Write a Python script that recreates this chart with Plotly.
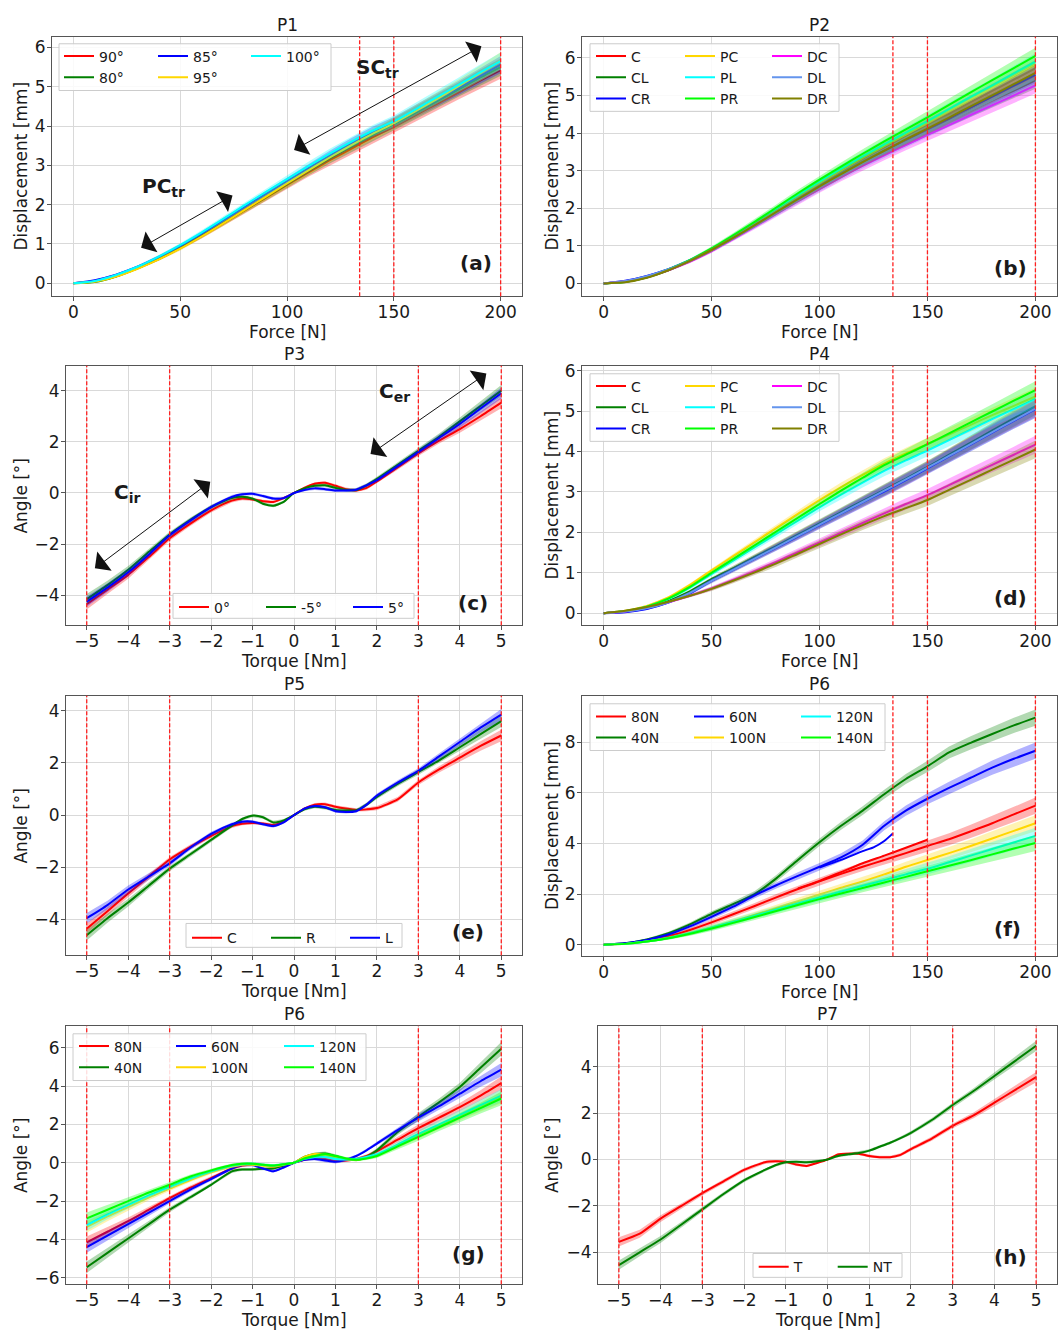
import plotly.graph_objects as go

W, H = 1064, 1335
FONT = "DejaVu Sans"
INK = "#1a1a1a"

# ---------------- data ----------------
force = [0, 10, 20, 30, 40, 50, 60, 70, 80, 90, 100, 110, 120, 130, 140, 150, 160, 170, 180, 190, 200]
torque = [-5, -4.5, -4, -3.5, -3, -2.5, -2, -1.5, -1.25, -1, -0.75, -0.5, -0.25, 0,
          0.25, 0.5, 0.75, 1, 1.25, 1.5, 1.75, 2, 2.5, 3, 3.5, 4, 4.5, 5]
force_limits = [134, 150, 200]
torque_limits = [-5, -3, 3, 5]

sd_force = [0, 0.01, 0.02, 0.03, 0.04, 0.05, 0.06, 0.07, 0.08, 0.09, 0.1, 0.11, 0.12, 0.13, 0.14, 0.15, 0.16, 0.17, 0.18, 0.2, 0.22]
sd_force_p6 = [0, 0.02, 0.04, 0.06, 0.08, 0.1, 0.11, 0.12, 0.13, 0.14, 0.15, 0.16, 0.17, 0.18, 0.2, 0.22, 0.24, 0.26, 0.28, 0.3, 0.32]
sd_torque = [0.2, 0.17, 0.15, 0.12, 0.1, 0.09, 0.08, 0.07, 0.06, 0.06, 0.06, 0.06, 0.05, 0.03,
             0.05, 0.06, 0.06, 0.06, 0.06, 0.06, 0.07, 0.08, 0.09, 0.1, 0.12, 0.15, 0.18, 0.22]
sd_torque_p6 = [0.3, 0.25, 0.2, 0.16, 0.13, 0.11, 0.09, 0.08, 0.07, 0.07, 0.07, 0.07, 0.06, 0.04,
                0.06, 0.08, 0.1, 0.09, 0.08, 0.07, 0.08, 0.1, 0.15, 0.2, 0.2, 0.22, 0.28, 0.35]

# P1 (a) displacement [mm] vs force
p1_names = ["90°", "80°", "85°", "95°", "100°"]
p1_90 = [0, 0.05, 0.18, 0.38, 0.62, 0.9, 1.2, 1.52, 1.85, 2.17, 2.5, 2.82, 3.13, 3.42, 3.71, 3.98, 4.27, 4.56, 4.85, 5.14, 5.42]
p1_80 = [0, 0.03, 0.17, 0.38, 0.62, 0.9, 1.21, 1.53, 1.86, 2.19, 2.52, 2.85, 3.17, 3.47, 3.76, 4.04, 4.33, 4.62, 4.92, 5.22, 5.5]
p1_85 = [0, 0.08, 0.22, 0.42, 0.67, 0.95, 1.26, 1.59, 1.93, 2.27, 2.6, 2.93, 3.25, 3.56, 3.84, 4.08, 4.37, 4.66, 4.96, 5.26, 5.56]
p1_95 = [0, 0.04, 0.17, 0.37, 0.61, 0.88, 1.19, 1.52, 1.86, 2.2, 2.54, 2.87, 3.2, 3.51, 3.8, 4.07, 4.37, 4.68, 5.0, 5.33, 5.66]
p1_100 = [0, 0.06, 0.21, 0.42, 0.68, 0.97, 1.29, 1.63, 1.98, 2.32, 2.65, 2.98, 3.3, 3.6, 3.88, 4.12, 4.42, 4.73, 5.04, 5.35, 5.65]

# P2 (b)
p2_C = [0, 0.05, 0.17, 0.36, 0.6, 0.9, 1.23, 1.57, 1.93, 2.29, 2.64, 2.98, 3.31, 3.62, 3.93, 4.23, 4.52, 4.82, 5.12, 5.42, 5.72]
p2_CL = [0, 0.04, 0.16, 0.35, 0.6, 0.89, 1.22, 1.56, 1.91, 2.26, 2.6, 2.93, 3.24, 3.53, 3.8, 4.07, 4.34, 4.6, 4.87, 5.13, 5.4]
p2_CR = [0, 0.07, 0.2, 0.38, 0.62, 0.9, 1.22, 1.55, 1.9, 2.24, 2.58, 2.91, 3.23, 3.53, 3.82, 4.1, 4.39, 4.68, 4.97, 5.26, 5.55]
p2_PC = [0, 0.05, 0.17, 0.36, 0.61, 0.91, 1.25, 1.6, 1.96, 2.32, 2.67, 3.01, 3.34, 3.65, 3.96, 4.26, 4.57, 4.88, 5.2, 5.51, 5.82]
p2_PL = [0, 0.05, 0.17, 0.37, 0.62, 0.92, 1.26, 1.61, 1.98, 2.35, 2.71, 3.05, 3.38, 3.7, 4.01, 4.32, 4.64, 4.96, 5.27, 5.59, 5.9]
p2_PR = [0, 0.04, 0.17, 0.37, 0.62, 0.93, 1.28, 1.64, 2.02, 2.4, 2.76, 3.11, 3.45, 3.78, 4.1, 4.42, 4.75, 5.08, 5.41, 5.73, 6.05]
p2_DC = [0, 0.05, 0.17, 0.35, 0.58, 0.86, 1.18, 1.51, 1.85, 2.19, 2.51, 2.83, 3.13, 3.41, 3.68, 3.95, 4.21, 4.48, 4.74, 5.0, 5.27]
p2_DL = [0, 0.06, 0.19, 0.37, 0.6, 0.88, 1.2, 1.53, 1.87, 2.21, 2.55, 2.87, 3.18, 3.47, 3.76, 4.04, 4.32, 4.6, 4.88, 5.16, 5.45]
p2_DR = [0, 0.03, 0.15, 0.35, 0.6, 0.89, 1.21, 1.55, 1.9, 2.24, 2.58, 2.91, 3.23, 3.53, 3.83, 4.12, 4.41, 4.71, 5.0, 5.3, 5.6]

# P3 (c) angle [deg] vs torque
p3_0 = [-4.35, -3.78, -3.2, -2.5, -1.77, -1.2, -0.68, -0.3, -0.22, -0.25, -0.32, -0.35, -0.2, 0,
        0.2, 0.36, 0.4, 0.28, 0.15, 0.1, 0.2, 0.45, 1.0, 1.55, 2.05, 2.5, 3.0, 3.53]
p3_m5 = [-4.15, -3.6, -3.0, -2.3, -1.62, -1.05, -0.55, -0.2, -0.15, -0.22, -0.42, -0.5, -0.35, 0,
         0.18, 0.28, 0.3, 0.2, 0.12, 0.12, 0.3, 0.55, 1.1, 1.65, 2.2, 2.8, 3.4, 4.0]
p3_5 = [-4.25, -3.7, -3.1, -2.4, -1.65, -1.08, -0.55, -0.15, -0.05, -0.03, -0.12, -0.22, -0.2, 0,
        0.12, 0.18, 0.15, 0.1, 0.1, 0.13, 0.3, 0.5, 1.05, 1.6, 2.15, 2.7, 3.3, 3.9]

# P4 (d)
p4_C = [0, 0.04, 0.13, 0.29, 0.52, 0.82, 1.09, 1.37, 1.64, 1.92, 2.2, 2.48, 2.76, 3.03, 3.31, 3.6, 3.9, 4.2, 4.5, 4.79, 5.08]
p4_CL = [0, 0.05, 0.14, 0.3, 0.54, 0.84, 1.11, 1.39, 1.66, 1.94, 2.22, 2.5, 2.78, 3.05, 3.33, 3.62, 3.92, 4.22, 4.52, 4.82, 5.12]
p4_CR = [0, 0.02, 0.1, 0.26, 0.49, 0.8, 1.07, 1.35, 1.62, 1.9, 2.18, 2.46, 2.74, 3.01, 3.29, 3.58, 3.88, 4.17, 4.47, 4.76, 5.05]
p4_PC = [0, 0.06, 0.18, 0.39, 0.7, 1.06, 1.41, 1.76, 2.11, 2.46, 2.8, 3.12, 3.42, 3.7, 3.95, 4.18, 4.42, 4.66, 4.9, 5.13, 5.36]
p4_PL = [0, 0.05, 0.16, 0.35, 0.63, 0.97, 1.3, 1.63, 1.96, 2.29, 2.62, 2.93, 3.23, 3.52, 3.78, 4.02, 4.28, 4.54, 4.8, 5.05, 5.3]
p4_PR = [0, 0.05, 0.16, 0.36, 0.65, 1.0, 1.34, 1.68, 2.02, 2.36, 2.7, 3.03, 3.35, 3.66, 3.92, 4.18, 4.45, 4.72, 4.99, 5.26, 5.52]
p4_DC = [0, 0.04, 0.13, 0.27, 0.43, 0.61, 0.82, 1.04, 1.27, 1.51, 1.75, 1.99, 2.23, 2.47, 2.7, 2.92, 3.17, 3.42, 3.67, 3.92, 4.17]
p4_DL = [0, 0.04, 0.12, 0.27, 0.5, 0.8, 1.07, 1.35, 1.63, 1.91, 2.19, 2.47, 2.75, 3.03, 3.31, 3.6, 3.89, 4.18, 4.48, 4.77, 5.06]
p4_DR = [0, 0.06, 0.15, 0.28, 0.43, 0.6, 0.8, 1.01, 1.23, 1.47, 1.71, 1.95, 2.18, 2.4, 2.6, 2.8, 3.05, 3.3, 3.55, 3.8, 4.05]

# P5 (e)
p5_C = [-4.35, -3.68, -3.0, -2.35, -1.7, -1.22, -0.8, -0.42, -0.33, -0.3, -0.32, -0.38, -0.25, 0,
        0.25, 0.4, 0.42, 0.32, 0.25, 0.2, 0.22, 0.27, 0.6, 1.25, 1.75, 2.2, 2.65, 3.05]
p5_R = [-4.6, -3.95, -3.35, -2.7, -2.05, -1.5, -0.95, -0.4, -0.15, -0.02, -0.08, -0.28, -0.2, 0,
        0.22, 0.32, 0.28, 0.2, 0.18, 0.18, 0.4, 0.7, 1.2, 1.65, 2.1, 2.6, 3.1, 3.6]
p5_L = [-3.95, -3.45, -2.85, -2.35, -1.85, -1.25, -0.72, -0.35, -0.25, -0.25, -0.35, -0.42, -0.28, 0,
        0.25, 0.35, 0.3, 0.15, 0.12, 0.15, 0.4, 0.75, 1.25, 1.7, 2.25, 2.8, 3.35, 3.85]

# P6 (f) displacement vs force at different preloads
p6f_80 = [0, 0.04, 0.15, 0.33, 0.58, 0.88, 1.2, 1.53, 1.87, 2.2, 2.5, 2.8, 3.08, 3.35, 3.62, 3.9, 4.17, 4.48, 4.8, 5.15, 5.5]
p6f_40 = [0, 0.05, 0.2, 0.45, 0.8, 1.22, 1.6, 2.0, 2.62, 3.35, 4.05, 4.7, 5.3, 5.95, 6.55, 7.05, 7.6, 7.98, 8.33, 8.67, 8.98]
p6f_60 = [0, 0.05, 0.18, 0.4, 0.72, 1.1, 1.5, 1.95, 2.35, 2.72, 3.08, 3.45, 3.95, 4.7, 5.3, 5.77, 6.2, 6.6, 7.0, 7.35, 7.67]
p6f_100 = [0, 0.03, 0.12, 0.26, 0.45, 0.68, 0.92, 1.18, 1.45, 1.72, 1.98, 2.25, 2.5, 2.78, 3.08, 3.35, 3.62, 3.9, 4.2, 4.5, 4.8]
p6f_120 = [0, 0.03, 0.12, 0.26, 0.45, 0.67, 0.9, 1.14, 1.39, 1.63, 1.87, 2.1, 2.33, 2.55, 2.78, 3.0, 3.26, 3.52, 3.78, 4.04, 4.3]
p6f_140 = [0, 0.03, 0.12, 0.25, 0.43, 0.64, 0.86, 1.09, 1.33, 1.57, 1.8, 2.02, 2.24, 2.46, 2.68, 2.9, 3.12, 3.34, 3.57, 3.8, 4.02]
p6f_80_branch_force = [90, 100, 110, 120, 130, 140, 150]
p6f_80_branch = [2.22, 2.52, 2.87, 3.22, 3.52, 3.83, 4.15]
p6f_60_branch_force = [100, 110, 120, 125, 130, 134]
p6f_60_branch = [3.05, 3.35, 3.7, 3.85, 4.1, 4.4]

# P6 (g) angle vs torque at different preloads
p6g_80 = [-4.15, -3.6, -3.05, -2.45, -1.85, -1.3, -0.8, -0.3, -0.15, -0.1, -0.12, -0.22, -0.15, 0,
          0.15, 0.25, 0.2, 0.1, 0.12, 0.2, 0.35, 0.6, 1.2, 1.8, 2.35, 2.9, 3.5, 4.15]
p6g_40 = [-5.45, -4.7, -3.95, -3.2, -2.45, -1.8, -1.15, -0.45, -0.35, -0.35, -0.32, -0.3, -0.15, 0,
          0.3, 0.45, 0.48, 0.35, 0.2, 0.15, 0.3, 0.65, 1.6, 2.4, 3.15, 3.95, 4.95, 5.95]
p6g_60 = [-4.4, -3.8, -3.2, -2.6, -2.0, -1.4, -0.85, -0.3, -0.12, -0.12, -0.3, -0.45, -0.25, 0,
          0.15, 0.2, 0.12, 0.05, 0.15, 0.35, 0.65, 1.0, 1.7, 2.35, 2.95, 3.6, 4.25, 4.85]
p6g_100 = [-3.35, -2.8, -2.3, -1.8, -1.35, -0.9, -0.5, -0.2, -0.1, -0.1, -0.15, -0.2, -0.1, 0,
           0.3, 0.45, 0.4, 0.25, 0.18, 0.15, 0.25, 0.4, 0.9, 1.45, 1.95, 2.45, 2.95, 3.45]
p6g_120 = [-3.25, -2.7, -2.2, -1.7, -1.25, -0.82, -0.45, -0.15, -0.07, -0.05, -0.1, -0.15, -0.08, 0,
           0.2, 0.3, 0.3, 0.2, 0.18, 0.2, 0.3, 0.45, 0.95, 1.5, 2.0, 2.5, 3.0, 3.5]
p6g_140 = [-2.9, -2.45, -2.0, -1.55, -1.15, -0.72, -0.4, -0.12, -0.05, -0.05, -0.1, -0.15, -0.08, 0,
           0.22, 0.35, 0.45, 0.35, 0.22, 0.15, 0.22, 0.35, 0.85, 1.35, 1.85, 2.35, 2.85, 3.35]

# P7 (h)
p7_T = [-3.55, -3.2, -2.55, -2.0, -1.45, -0.95, -0.45, -0.12, -0.08, -0.1, -0.22, -0.28, -0.15, 0,
        0.22, 0.25, 0.25, 0.15, 0.1, 0.1, 0.2, 0.45, 0.9, 1.45, 1.9, 2.45, 3.0, 3.55]
p7_NT = [-4.55, -4.0, -3.45, -2.8, -2.15, -1.5, -0.9, -0.45, -0.25, -0.12, -0.1, -0.12, -0.08, 0,
         0.15, 0.22, 0.28, 0.38, 0.55, 0.72, 0.92, 1.15, 1.7, 2.35, 2.95, 3.6, 4.25, 4.9]

# colours (matplotlib named colours)
RED, GREEN, BLUE = "#ff0000", "#008000", "#0000ff"
GOLD, CYAN, LIME = "#ffd700", "#00ffff", "#00ff00"
MAGENTA, CORNFLOWER, OLIVE = "#ff00ff", "#6495ed", "#808000"


def rgba(h, a):
    h = h.lstrip("#")
    return "rgba(%d,%d,%d,%.2f)" % (int(h[0:2], 16), int(h[2:4], 16), int(h[4:6], 16), a)


def sfx(i):
    return "" if i == 1 else str(i)


fig = go.Figure()


def add_series(i, x, y, sd, color, name, legend):
    s = sfx(i)
    up = [a + b for a, b in zip(y, sd)]
    lo = [a - b for a, b in zip(y, sd)]
    fig.add_trace(go.Scatter(x=list(x) + list(x)[::-1], y=up + lo[::-1], fill="toself",
                             fillcolor=rgba(color, 0.3), line=dict(width=0), mode="lines",
                             hoverinfo="skip", showlegend=False, xaxis="x" + s, yaxis="y" + s))
    fig.add_trace(go.Scatter(x=x, y=y, mode="lines", name=name,
                             line=dict(color=color, width=2, shape="spline", smoothing=0.6),
                             xaxis="x" + s, yaxis="y" + s, legend=legend, showlegend=True))


def add_branch(i, x, y, color):
    s = sfx(i)
    fig.add_trace(go.Scatter(x=x, y=y, mode="lines", showlegend=False,
                             line=dict(color=color, width=2, shape="spline", smoothing=0.6),
                             xaxis="x" + s, yaxis="y" + s))


# panel 1
for y, c, n, lg in [(p1_90, RED, p1_names[0], "legend"), (p1_80, GREEN, p1_names[1], "legend"),
                    (p1_85, BLUE, p1_names[2], "legend2"), (p1_95, GOLD, p1_names[3], "legend2"),
                    (p1_100, CYAN, p1_names[4], "legend3")]:
    add_series(1, force, y, sd_force, c, n, lg)

# panel 2 & 4
p2_series = [(p2_C, RED, "C", 0), (p2_CL, GREEN, "CL", 0), (p2_CR, BLUE, "CR", 0),
             (p2_PC, GOLD, "PC", 1), (p2_PL, CYAN, "PL", 1), (p2_PR, LIME, "PR", 1),
             (p2_DC, MAGENTA, "DC", 2), (p2_DL, CORNFLOWER, "DL", 2), (p2_DR, OLIVE, "DR", 2)]
for y, c, n, k in p2_series:
    add_series(2, force, y, sd_force, c, n, "legend%d" % (4 + k))
p4_series = [(p4_C, RED, "C", 0), (p4_CL, GREEN, "CL", 0), (p4_CR, BLUE, "CR", 0),
             (p4_PC, GOLD, "PC", 1), (p4_PL, CYAN, "PL", 1), (p4_PR, LIME, "PR", 1),
             (p4_DC, MAGENTA, "DC", 2), (p4_DL, CORNFLOWER, "DL", 2), (p4_DR, OLIVE, "DR", 2)]
for y, c, n, k in p4_series:
    add_series(4, force, y, sd_force, c, n, "legend%d" % (8 + k))

# panel 3
for y, c, n in [(p3_0, RED, "0°"), (p3_m5, GREEN, "-5°"), (p3_5, BLUE, "5°")]:
    add_series(3, torque, y, sd_torque, c, n, "legend7")

# panel 5
for y, c, n in [(p5_C, RED, "C"), (p5_R, GREEN, "R"), (p5_L, BLUE, "L")]:
    add_series(5, torque, y, sd_torque, c, n, "legend11")

# panel 6 (f)
p6f_series = [(p6f_80, RED, "80N", 0), (p6f_40, GREEN, "40N", 0), (p6f_60, BLUE, "60N", 1),
              (p6f_100, GOLD, "100N", 1), (p6f_120, CYAN, "120N", 2), (p6f_140, LIME, "140N", 2)]
for y, c, n, k in p6f_series:
    add_series(6, force, y, sd_force_p6, c, n, "legend%d" % (12 + k))
add_branch(6, p6f_80_branch_force, p6f_80_branch, RED)
add_branch(6, p6f_60_branch_force, p6f_60_branch, BLUE)

# panel 7 (g)
p6g_series = [(p6g_80, RED, "80N", 0), (p6g_40, GREEN, "40N", 0), (p6g_60, BLUE, "60N", 1),
              (p6g_100, GOLD, "100N", 1), (p6g_120, CYAN, "120N", 2), (p6g_140, LIME, "140N", 2)]
for y, c, n, k in p6g_series:
    add_series(7, torque, y, sd_torque_p6, c, n, "legend%d" % (15 + k))

# panel 8 (h)
for y, c, n in [(p7_T, RED, "T"), (p7_NT, GREEN, "NT")]:
    add_series(8, torque, y, sd_torque, c, n, "legend18")

# ---------------- layout ----------------
panels = [
    dict(box=(52, 522, 32, 293), xr=[-10, 210], yr=[-0.33, 6.27], xt=[0, 50, 100, 150, 200], yt=[0, 1, 2, 3, 4, 5, 6],
         xl="Force [N]", yl="Displacement [mm]", title="P1", tag="(a)", tagpos=(476, 260), vl=force_limits, ytx=21),
    dict(box=(582, 1057, 32, 293), xr=[-10, 210], yr=[-0.34, 6.56], xt=[0, 50, 100, 150, 200], yt=[0, 1, 2, 3, 4, 5, 6],
         xl="Force [N]", yl="Displacement [mm]", title="P2", tag="(b)", tagpos=(1010, 265), vl=force_limits, ytx=552),
    dict(box=(66, 522, 363, 624), xr=[-5.5, 5.5], yr=[-5.17, 4.97], xt=[-5, -4, -3, -2, -1, 0, 1, 2, 3, 4, 5], yt=[-4, -2, 0, 2, 4],
         xl="Torque [Nm]", yl="Angle [°]", title="P3", tag="(c)", tagpos=(473, 602), vl=torque_limits, ytx=21),
    dict(box=(582, 1057, 363, 624), xr=[-10, 210], yr=[-0.3, 6.12], xt=[0, 50, 100, 150, 200], yt=[0, 1, 2, 3, 4, 5, 6],
         xl="Force [N]", yl="Displacement [mm]", title="P4", tag="(d)", tagpos=(1010, 597), vl=force_limits, ytx=552),
    dict(box=(66, 522, 695, 956), xr=[-5.5, 5.5], yr=[-5.37, 4.57], xt=[-5, -4, -3, -2, -1, 0, 1, 2, 3, 4, 5], yt=[-4, -2, 0, 2, 4],
         xl="Torque [Nm]", yl="Angle [°]", title="P5", tag="(e)", tagpos=(468, 933), vl=torque_limits, ytx=21),
    dict(box=(582, 1057, 695, 957), xr=[-10, 210], yr=[-0.46, 9.84], xt=[0, 50, 100, 150, 200], yt=[0, 2, 4, 6, 8],
         xl="Force [N]", yl="Displacement [mm]", title="P6", tag="(f)", tagpos=(1007, 930), vl=force_limits, ytx=552),
    dict(box=(66, 522, 1027, 1287), xr=[-5.5, 5.5], yr=[-6.34, 7.14], xt=[-5, -4, -3, -2, -1, 0, 1, 2, 3, 4, 5], yt=[-6, -4, -2, 0, 2, 4, 6],
         xl="Torque [Nm]", yl="Angle [°]", title="P6", tag="(g)", tagpos=(468, 1257), vl=torque_limits, ytx=21),
    dict(box=(598, 1057, 1027, 1287), xr=[-5.5, 5.5], yr=[-5.38, 5.76], xt=[-5, -4, -3, -2, -1, 0, 1, 2, 3, 4, 5], yt=[-4, -2, 0, 2, 4],
         xl="Torque [Nm]", yl="Angle [°]", title="P7", tag="(h)", tagpos=(1010, 1260), vl=torque_limits, ytx=552),
]

axis_style = dict(showline=True, linecolor="#555555", linewidth=1, mirror=True, showgrid=True,
                  gridcolor="#d9d9d9", gridwidth=1, zeroline=False, ticks="outside", ticklen=4,
                  tickwidth=1, tickcolor="#555555", tickfont=dict(family=FONT, size=17, color=INK))

shapes = []
annotations = []
layout_axes = {}


def label(text, xpx, ypx, size=17, angle=0, bold=False):
    return dict(text="<b>%s</b>" % text if bold else text, xref="paper", yref="paper",
                x=xpx / W, y=1 - ypx / H, xanchor="center", yanchor="middle", showarrow=False,
                textangle=angle, font=dict(family=FONT, size=size, color=INK))


for i, p in enumerate(panels, 1):
    s = sfx(i)
    x0, x1, y0, y1 = p["box"]
    layout_axes["xaxis" + s] = dict(axis_style, domain=[x0 / W, x1 / W], anchor="y" + s, range=p["xr"],
                                    tickvals=p["xt"], ticklabelstandoff=-4)
    layout_axes["yaxis" + s] = dict(axis_style, domain=[1 - y1 / H, 1 - y0 / H], anchor="x" + s, range=p["yr"],
                                    tickvals=p["yt"], ticklabelstandoff=-2)
    for v in p["vl"]:
        shapes.append(dict(type="line", xref="x" + s, yref="y%s domain" % s, x0=v, x1=v, y0=0, y1=1,
                           line=dict(color="#ff2020", width=1.3, dash="4px,2px"), layer="above"))
    annotations.append(label(p["title"], (x0 + x1) / 2, y0 - 12))
    annotations.append(label(p["xl"], (x0 + x1) / 2, y1 + 35.5))
    annotations.append(label(p["yl"], p["ytx"], (y0 + y1) / 2, angle=-90))
    tx, ty = p["tagpos"]
    annotations.append(label(p["tag"], tx, ty, size=20, bold=True))

# legend frames (px boxes)
for bx0, bx1, by0, by1 in [(59, 331, 39, 86), (590, 839, 39, 107), (173, 414, 592, 617), (590, 839, 371, 439),
                           (186, 402, 924, 948), (590, 885, 703, 750), (73, 366, 1035, 1082), (753, 902, 1256, 1280)]:
    shapes.append(dict(type="rect", xref="paper", yref="paper", x0=bx0 / W, x1=bx1 / W, y0=1 - by1 / H, y1=1 - by0 / H,
                       fillcolor="rgba(255,255,255,0.85)", line=dict(color="#cccccc", width=1), layer="above"))


def legend_at(line_x, row_y, orientation="v", entrywidth=None):
    d = dict(x=(line_x - 4) / W, y=1 - (row_y - (13 if orientation == "h" else 15)) / H, xanchor="left", yanchor="top",
             bgcolor="rgba(0,0,0,0)", borderwidth=0, orientation=orientation, itemwidth=30,
             tracegroupgap=0, font=dict(family=FONT, size=14, color=INK))
    if entrywidth:
        d["entrywidth"] = entrywidth
    return d


legends = {
    "legend": legend_at(63, 50.7), "legend2": legend_at(157, 50.7), "legend3": legend_at(250, 50.7),
    "legend4": legend_at(595, 50.7), "legend5": legend_at(684, 50.7), "legend6": legend_at(771, 50.7),
    "legend7": legend_at(178, 603, "h", 42),
    "legend8": legend_at(595, 382.7), "legend9": legend_at(684, 382.7), "legend10": legend_at(771, 382.7),
    "legend11": legend_at(191, 935.7, "h", 34),
    "legend12": legend_at(595, 715), "legend13": legend_at(693, 715), "legend14": legend_at(800, 715),
    "legend15": legend_at(78, 1046.7), "legend16": legend_at(175, 1046.7), "legend17": legend_at(283, 1046.7),
    "legend18": legend_at(757.7, 1266.7, "h", 34),
}

# double-headed arrows and region labels
arrow_pairs = [
    (1, (31, 0.88), (74.5, 2.23)), (1, (102.6, 3.37), (191, 6.03)),
    (3, (-4.84, -2.99), (-2.02, 0.44)), (3, (1.81, 1.48), (4.64, 4.67)),
]
for i, (xa, ya), (xb, yb) in arrow_pairs:
    s = sfx(i)
    annotations.append(dict(x=xb, y=yb, ax=xa, ay=ya, xref="x" + s, yref="y" + s, axref="x" + s, ayref="y" + s,
                            text="", showarrow=True, arrowhead=1, startarrowhead=1, arrowside="end+start",
                            arrowsize=4, startarrowsize=4, arrowwidth=1, arrowcolor="#111111",
                            standoff=0, startstandoff=0))
region_labels = [(1, 42, 2.45, "PC", "tr"), (1, 142.5, 5.48, "SC", "tr"),
                 (3, -4.03, 0.0, "C", "ir"), (3, 2.42, 3.93, "C", "er")]
for i, x, y, main, sub in region_labels:
    s = sfx(i)
    annotations.append(dict(x=x, y=y, xref="x" + s, yref="y" + s, showarrow=False,
                            text="<b>%s<sub>%s</sub></b>" % (main, sub),
                            font=dict(family=FONT, size=20, color=INK)))

fig.update_layout(width=W, height=H, margin=dict(l=0, r=0, t=0, b=0), autosize=False,
                  paper_bgcolor="white", plot_bgcolor="white",
                  font=dict(family=FONT, size=14, color=INK),
                  shapes=shapes, annotations=annotations, **layout_axes, **legends)

page_fix = ("document.documentElement.style.margin='0px';document.documentElement.style.padding='0px';"
            "document.documentElement.style.overflow='hidden';"
            "document.body.style.margin='0px';document.body.style.padding='0px';"
            "document.body.style.overflow='hidden';"
            "var gd=document.getElementById('{plot_id}');gd.parentNode.style.lineHeight='0px';"
            "gd.parentNode.style.fontSize='0px';gd.style.display='block';")

fig.write_html("out.html", config={"displayModeBar": False}, post_script=page_fix)
